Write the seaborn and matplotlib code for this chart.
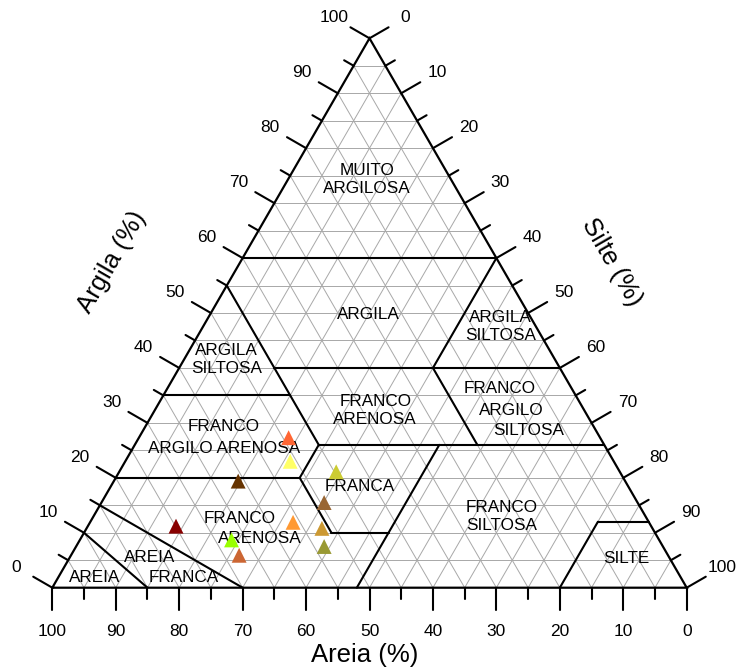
import numpy as np
import pandas as pd
import seaborn as sns
import matplotlib.pyplot as plt

# === Amostras (areia, silte, argila em %) ===
amostras = ["A1", "A2", "A3", "A4", "A5", "A6", "A7", "A8", "A9", "A10", "A11"]
areia = [49.1, 51.0, 61.0, 44.7, 49.4, 56.1, 52.1, 53.4, 74.9, 67.4, 67.6]
silte = [23.6, 26.0, 19.6, 34.2, 35.1, 32.0, 37.1, 39.1, 13.9, 23.9, 26.5]
argila = [27.3, 23.0, 19.4, 21.1, 15.5, 11.9, 10.8, 7.5, 11.2, 8.7, 5.9]
cores = ["#FF6633", "#FFFF66", "#663300", "#CCCC33", "#996633", "#FF9933",
         "#CC9933", "#999933", "#880000", "#99FF00", "#CC6633"]

# === Limites das classes texturais, pares (silte, argila) ===
limites = [
    [(0, 60), (40, 60)],
    [(15, 40), (60, 40)],
    [(0, 35), (20, 35)],
    [(0, 20), (29, 20)],
    [(29, 26), (74, 26)],
    [(0, 55), (29, 26)],
    [(40, 40), (40, 60)],
    [(40, 40), (54, 26)],
    [(29, 26), (29, 20)],
    [(29, 20), (39, 10)],
    [(39, 10), (48, 10)],
    [(48, 26), (48, 0)],
    [(0, 10), (15, 0)],
    [(0, 15), (30, 0)],
    [(80, 0), (80, 12)],
    [(80, 12), (88, 12)],
]

# === Rotulos das classes (texto, x, y no plano do triangulo) ===
rotulos = [
    ("MUITO\nARGILOSA", 49.6, 64.4),
    ("ARGILA", 49.8, 43.0),
    ("ARGILA\nSILTOSA", 70.6, 41.1),
    ("ARGILA\nSILTOSA", 27.5, 36.0),
    ("FRANCO\nARENOSA", 50.9, 28.0),
    ("FRANCO", 70.5, 31.4),
    ("ARGILO", 72.3, 28.0),
    ("SILTOSA", 75.1, 24.75),
    ("FRANCO", 27.0, 25.4),
    ("ARGILO ARENOSA", 27.1, 22.0),
    ("FRANCA", 48.5, 15.9),
    ("FRANCO", 29.5, 10.9),
    ("ARENOSA", 32.7, 7.8),
    ("FRANCO\nSILTOSA", 70.9, 11.3),
    ("SILTE", 90.4, 4.6),
    ("AREIA", 6.6, 1.6),
    ("AREIA", 15.4, 4.8),
    ("FRANCA", 20.65, 1.65),
]

H = np.sqrt(3) / 2


def tern(s, c):
    # (silte, argila) -> coordenadas cartesianas
    return s + c / 2.0, c * H


sns.set_style("white")
plt.rcParams["font.family"] = ["Liberation Sans", "DejaVu Sans"]
plt.rcParams["text.color"] = "black"

fig = plt.figure(figsize=(7.4, 6.71), dpi=100)
ax = fig.add_axes([0, 0, 1, 1])
ax.set_xlim(-8.244, 108.4)
ax.set_ylim(-13.13, 92.64)
ax.axis("off")

# grade a cada 5%
for v in range(5, 100, 5):
    kw = dict(color="#a8a8a8", lw=0.7, zorder=1)
    ax.plot(*zip(tern(0, v), tern(100 - v, v)), **kw)
    ax.plot(*zip(tern(v, 0), tern(v, 100 - v)), **kw)
    ax.plot(*zip(tern(0, 100 - v), tern(100 - v, 0)), **kw)

# contorno
ax.plot([0, 100, 50, 0], [0, 0, 100 * H, 0], color="black", lw=1.6, zorder=3,
        solid_joinstyle="miter")

for seg in limites:
    (s0, c0), (s1, c1) = seg
    x0, y0 = tern(s0, c0)
    x1, y1 = tern(s1, c1)
    ax.plot([x0, x1], [y0, y1], color="black", lw=1.5, zorder=3)

# ticks e rotulos dos eixos
maior, menor, dist = 3.47, 1.73, 6.5
d_esq = np.array([-H, 0.5])
d_dir = np.array([H, 0.5])
for v in range(0, 101, 5):
    comp = maior if v % 10 == 0 else menor
    # argila (lado esquerdo)
    p = np.array(tern(0, v))
    q = p + d_esq * comp
    ax.plot([p[0], q[0]], [p[1], q[1]], color="black", lw=1.5, zorder=3)
    # silte (lado direito)
    p2 = np.array(tern(v, 100 - v))
    q2 = p2 + d_dir * comp
    ax.plot([p2[0], q2[0]], [p2[1], q2[1]], color="black", lw=1.5, zorder=3)
    # areia (base)
    xb = 100 - v
    ax.plot([xb, xb], [0, -comp], color="black", lw=1.5, zorder=3)
    if v % 10 == 0:
        t = p + d_esq * dist
        ax.text(t[0], t[1], str(v), ha="center", va="center", fontsize=12.5)
        t2 = p2 + d_dir * dist
        ax.text(t2[0], t2[1], str(v), ha="center", va="center", fontsize=12.5)
        ax.text(xb, -6.94, str(v), ha="center", va="center", fontsize=12.5)

ax.text(49.3, -10.6, "Areia (%)", ha="center", va="center", fontsize=18.5)
ax.text(9.4, 51.4, "Argila (%)", ha="center", va="center", fontsize=18.5,
        rotation=60)
ax.text(88.2, 51.3, "Silte (%)", ha="center", va="center", fontsize=18.5,
        rotation=-60)

for txt, x, y in rotulos:
    ax.text(x, y, txt, ha="center", va="center", fontsize=12.3,
            linespacing=1.25, zorder=4)

# pontos
df = pd.DataFrame({"amostra": amostras, "areia": areia,
                   "silte": silte, "argila": argila})
df["x"] = df["silte"] + df["argila"] / 2
df["y"] = df["argila"] * H
sns.scatterplot(data=df, x="x", y="y", hue="amostra", palette=cores,
                marker="^", s=115, linewidth=0, legend=False, ax=ax, zorder=5)
ax.set_xlabel("")
ax.set_ylabel("")

fig.savefig("out.png", dpi=100)
